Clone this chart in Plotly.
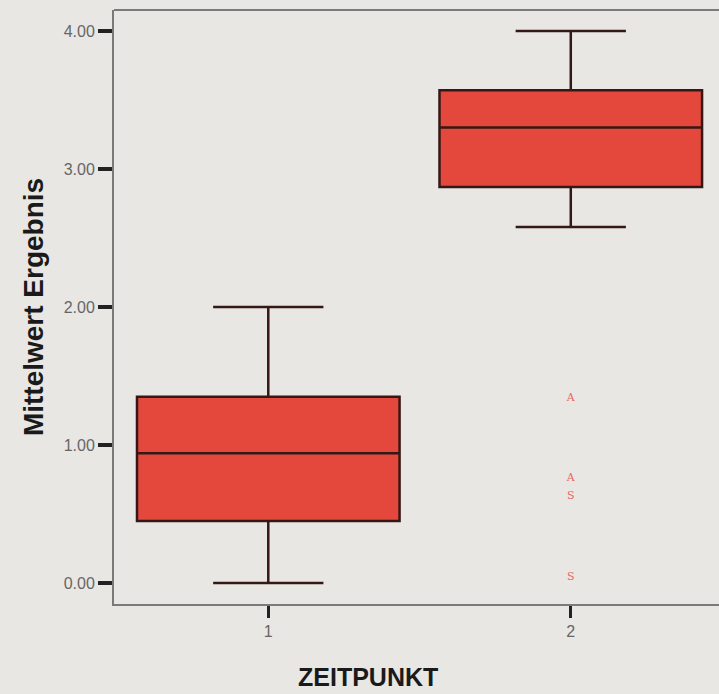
import plotly.graph_objects as go

# Data
categories = [1, 2]
q1 = [0.45, 2.87]
medians = [0.94, 3.30]
q3 = [1.35, 3.57]
lower = [0.0, 2.58]
upper = [2.0, 4.0]

outlier_x = [2, 2, 2, 2]
outlier_y = [1.34, 0.76, 0.63, 0.04]
outlier_labels = ["A", "A", "S", "S"]

y_ticks = [0, 1, 2, 3, 4]

bg = "#e9e7e4"

fig = go.Figure()
fig.add_trace(go.Box(
    x=categories, q1=q1, median=medians, q3=q3,
    lowerfence=lower, upperfence=upper,
    width=0.868, whiskerwidth=0.42,
    fillcolor="#e4473b", line=dict(color="#351815", width=2.5),
    boxpoints=False, hoverinfo="skip", showlegend=False,
))
fig.add_trace(go.Scatter(
    x=outlier_x, y=outlier_y, text=outlier_labels, mode="text",
    textfont=dict(family="DejaVu Serif, serif", size=11, color="#e8685c"),
    showlegend=False, hoverinfo="skip",
))

fig.update_layout(
    width=719, height=694,
    margin=dict(l=114, r=0, t=10, b=90),
    paper_bgcolor=bg, plot_bgcolor=bg,
    font=dict(family="Liberation Sans, Arial, sans-serif", color="#222"),
    xaxis=dict(
        range=[0.49, 2.49], tickvals=categories, ticktext=["1", "2"],
        showgrid=False, zeroline=False,
        showline=True, linecolor="#7a7a7a", linewidth=2,
        ticks="outside", ticklen=12, tickwidth=3, tickcolor="#222",
        tickfont=dict(size=16, color="#666666"),
    ),
    yaxis=dict(
        range=[-0.152, 4.152], tickvals=y_ticks, tickformat=".2f",
        showgrid=False, zeroline=False,
        showline=True, linecolor="#7a7a7a", linewidth=2,
        ticks="outside", ticklen=14, tickwidth=4, tickcolor="#222",
        tickfont=dict(size=16, color="#666666"),
        title=dict(text="Mittelwert Ergebnis", standoff=12,
                   font=dict(size=28, color="#1a1a1a", family="Liberation Sans, Arial, sans-serif", weight="bold")),
    ),
    shapes=[dict(type="line", xref="paper", yref="paper", x0=0, x1=1, y0=1, y1=1,
                 line=dict(color="#7a7a7a", width=2))],
    annotations=[dict(text="<b>ZEITPUNKT</b>", xref="paper", yref="paper",
                      x=(368 - 114) / 605, y=-0.123, xanchor="center", yanchor="middle",
                      showarrow=False, font=dict(size=25, color="#1a1a1a"))],
)

fig.write_html("out.html", config={"displayModeBar": False},
               post_script="document.body.style.margin='0';")
